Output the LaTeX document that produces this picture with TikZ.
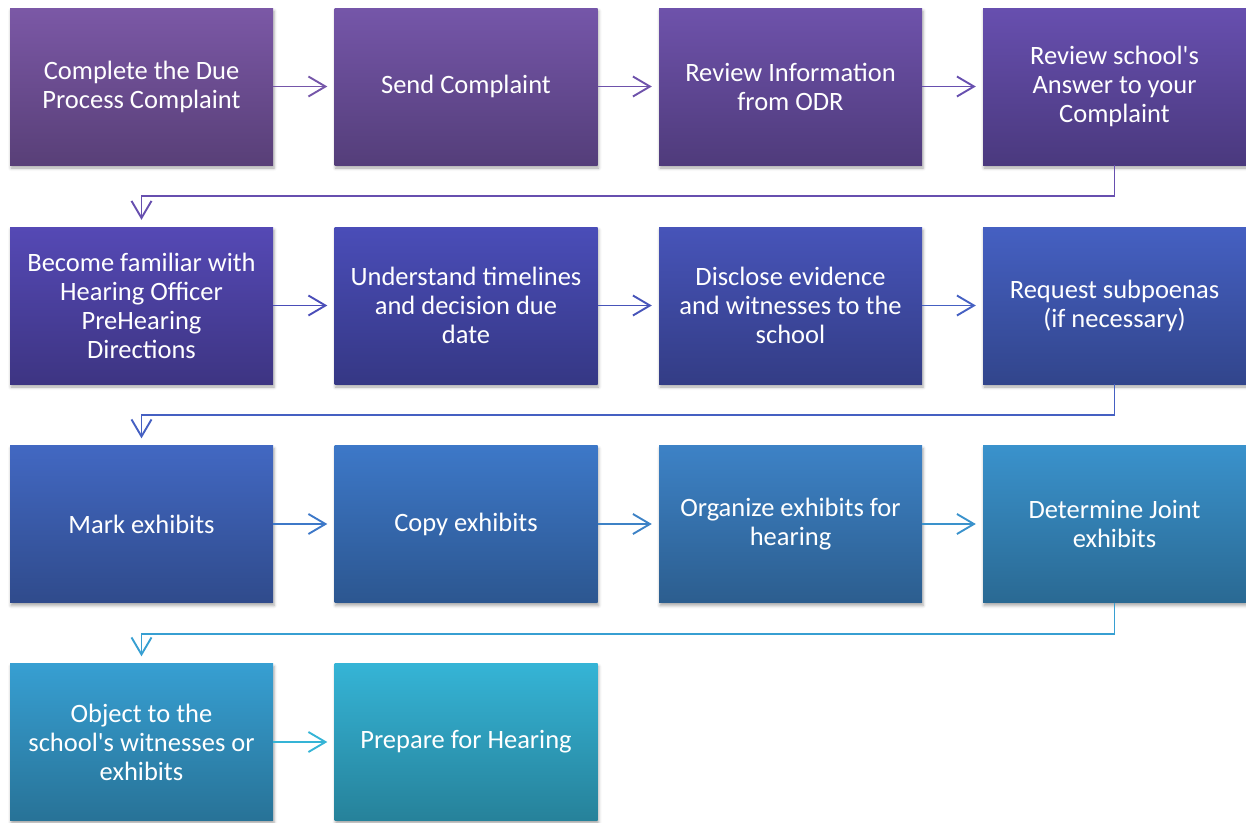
\documentclass[tikz,border=0pt]{standalone}
\usepackage{fontspec}
\setmainfont{Carlito}
\usetikzlibrary{arrows.meta,shadows.blur}

\definecolor{c1}{HTML}{7B58A6}
\definecolor{c2}{HTML}{7556A9}
\definecolor{c3}{HTML}{6E52AB}
\definecolor{c4}{HTML}{674FAF}
\definecolor{c5}{HTML}{5549B5}
\definecolor{c6}{HTML}{4A4DB8}
\definecolor{c7}{HTML}{4754B9}
\definecolor{c8}{HTML}{4560C2}
\definecolor{c9}{HTML}{4268C2}
\definecolor{c10}{HTML}{3D78C8}
\definecolor{c11}{HTML}{3D82C6}
\definecolor{c12}{HTML}{3A92CC}
\definecolor{c13}{HTML}{379FD2}
\definecolor{c14}{HTML}{35B4D6}

\tikzset{
  stepbox/.style={rectangle, minimum width=263pt, minimum height=157pt,
    inner sep=0pt, align=center, text=white,
    font=\fontsize{26.5}{29}\selectfont,
    top color=#1, bottom color=#1!72!black,
    blur shadow={shadow xshift=1pt, shadow yshift=-3pt,
      shadow blur radius=3pt, shadow opacity=35}},
  flow/.style={draw=#1, line width=1.9pt, shorten >=7pt,
    -{Straight Barb[length=17pt,width=20pt]}}
}

\begin{document}
\begin{tikzpicture}
\useasboundingbox (0,0) rectangle (1246pt,-822pt);
% first row
\node[stepbox=c1] (complete) at (141.5pt,-86.5pt) {Complete the Due\\Process Complaint};
\node[stepbox=c2] (send) at (466pt,-86.5pt) {Send Complaint};
\node[stepbox=c3] (odr) at (790.5pt,-86.5pt) {Review Information\\from ODR};
\node[stepbox=c4] (answer) at (1114.5pt,-86.5pt) {Review school\textquotesingle s\\Answer to your\\Complaint};
% second row
\node[stepbox=c5] (directions) at (141.5pt,-305.5pt) {Become familiar with\\Hearing Officer\\PreHearing\\Directions};
\node[stepbox=c6] (timelines) at (466pt,-305.5pt) {Understand timelines\\and decision due\\date};
\node[stepbox=c7] (disclose) at (790.5pt,-305.5pt) {Disclose evidence\\and witnesses to the\\school};
\node[stepbox=c8] (subpoenas) at (1114.5pt,-305.5pt) {Request subpoenas\\(if necessary)};
% third row
\node[stepbox=c9] (mark) at (141.5pt,-524pt) {Mark exhibits};
\node[stepbox=c10] (copy) at (466pt,-524pt) {Copy exhibits};
\node[stepbox=c11] (organize) at (790.5pt,-524pt) {Organize exhibits for\\hearing};
\node[stepbox=c12] (joint) at (1114.5pt,-524pt) {Determine Joint\\exhibits};
% last row
\node[stepbox=c13] (object) at (141.5pt,-742pt) {Object to the\\school\textquotesingle s witnesses or\\exhibits};
\node[stepbox=c14] (prepare) at (466pt,-742pt) {Prepare for Hearing};

\draw[flow=c2] (complete) -- (send);
\draw[flow=c3] (send) -- (odr);
\draw[flow=c4] (odr) -- (answer);
\draw[flow=c4] (answer.south) -- ++(0,-31pt) -| (directions.north);
\draw[flow=c6] (directions) -- (timelines);
\draw[flow=c7] (timelines) -- (disclose);
\draw[flow=c8] (disclose) -- (subpoenas);
\draw[flow=c8] (subpoenas.south) -- ++(0,-31pt) -| (mark.north);
\draw[flow=c10] (mark) -- (copy);
\draw[flow=c11] (copy) -- (organize);
\draw[flow=c12] (organize) -- (joint);
\draw[flow=c13] (joint.south) -- ++(0,-31pt) -| (object.north);
\draw[flow=c14] (object) -- (prepare);
\end{tikzpicture}
\end{document}
